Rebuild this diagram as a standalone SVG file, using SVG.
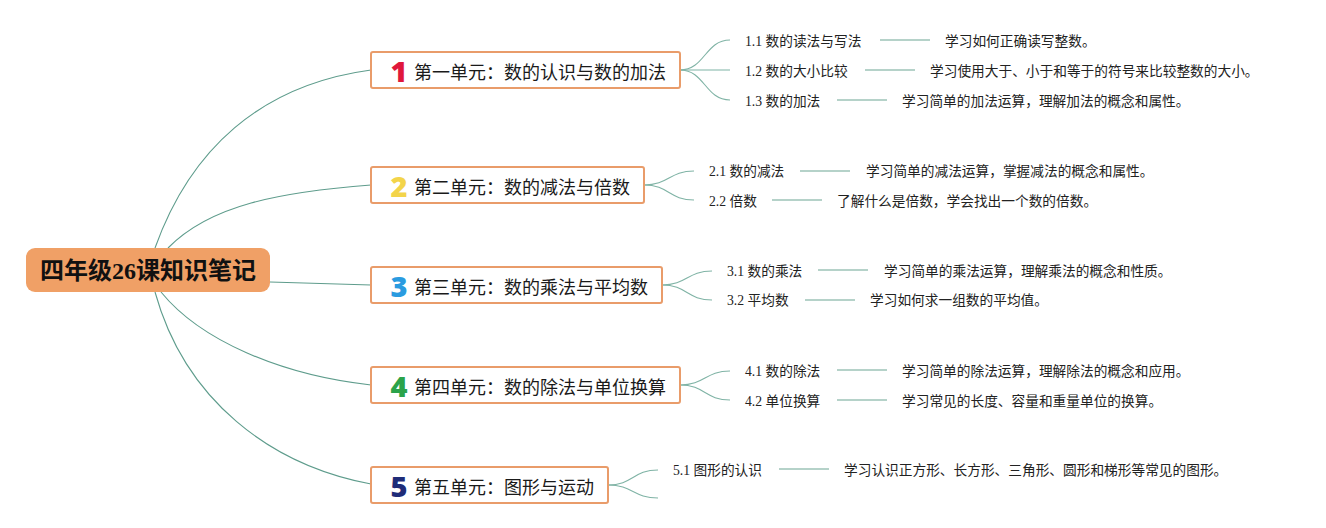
<svg xmlns="http://www.w3.org/2000/svg" width="1326" height="528" viewBox="0 0 1326 528">
<style>
.conn{fill:none;stroke:#5E9C8C;stroke-width:1.1}
.sub{fill:none;stroke:#7FB3A5;stroke-width:1.1}
.dash{stroke:#9CC3B7;stroke-width:1.5}
.unit{fill:#fff;stroke:#E99C6A;stroke-width:2}
.ut{font-family:"Noto Sans CJK SC","Noto Sans",sans-serif;font-size:18px;fill:#1a1a1a;dominant-baseline:central}
.num{font-family:"Noto Sans","DejaVu Sans",sans-serif;font-weight:900;font-size:29px;dominant-baseline:central;text-anchor:middle}
.ct{font-family:"Liberation Serif","Noto Sans CJK SC",serif;font-size:13.7px;fill:#222;dominant-baseline:central}
</style>
<rect width="1326" height="528" fill="#fff"/>
<g id="connectors">
<path class="conn" d="M155,248 C190,150 260,85 371,70"/>
<path class="conn" d="M168,248 C210,205 280,192 371,185"/>
<path class="conn" d="M270,282 C310,283 340,284 371,285"/>
<path class="conn" d="M161,292 C200,340 280,375 371,385"/>
<path class="conn" d="M155,292 C185,400 270,465 371,484"/>
<path class="sub" d="M680,70 C705,70 705,40 730,40"/>
<path class="sub" d="M680,70 L730,70"/>
<path class="sub" d="M680,70 C705,70 705,100 730,100"/>
<path class="sub" d="M644,185 C669,185 669,171 694,171"/>
<path class="sub" d="M644,185 C669,185 669,200 694,200"/>
<path class="sub" d="M662,285 C687,285 687,271 712,271"/>
<path class="sub" d="M662,285 C687,285 687,300 712,300"/>
<path class="sub" d="M680,385 C705,385 705,371 730,371"/>
<path class="sub" d="M680,385 C705,385 705,400 730,400"/>
<path class="sub" d="M608,485 C633,485 633,470 658,470"/>
<path class="sub" d="M608,485 C633,485 633,498 658,498"/>
<line class="dash" x1="880" y1="40" x2="930" y2="40"/>
<line class="dash" x1="865" y1="70" x2="915" y2="70"/>
<line class="dash" x1="837" y1="100" x2="887" y2="100"/>
<line class="dash" x1="800" y1="171" x2="850" y2="171"/>
<line class="dash" x1="772" y1="200" x2="822" y2="200"/>
<line class="dash" x1="818" y1="270" x2="868" y2="270"/>
<line class="dash" x1="805" y1="300" x2="855" y2="300"/>
<line class="dash" x1="837" y1="370" x2="887" y2="370"/>
<line class="dash" x1="837" y1="400" x2="887" y2="400"/>
<line class="dash" x1="779" y1="469" x2="829" y2="469"/>
</g>
<g id="root">
<rect x="26" y="248" width="244" height="44" rx="9" fill="#F0A066"/>
<text x="148" y="271" text-anchor="middle" dominant-baseline="central" font-family="Liberation Serif,'Noto Sans CJK SC',serif" font-weight="bold" font-size="24" fill="#111">四年级26课知识笔记</text>
</g>
<g id="unit1">
<rect class="unit" x="371" y="52" width="309" height="36" rx="2"/>
<text class="num" x="399" y="70" fill="#E0173B">1</text>
<text class="ut" x="414" y="71">第一单元：数的认识与数的加法</text>
</g>
<g id="unit2">
<rect class="unit" x="371" y="167" width="273" height="36" rx="2"/>
<text class="num" x="399" y="185" fill="#F3D44A">2</text>
<text class="ut" x="414" y="186">第二单元：数的减法与倍数</text>
</g>
<g id="unit3">
<rect class="unit" x="371" y="267" width="291" height="36" rx="2"/>
<text class="num" x="399" y="285" fill="#2A9BE0">3</text>
<text class="ut" x="414" y="286">第三单元：数的乘法与平均数</text>
</g>
<g id="unit4">
<rect class="unit" x="371" y="367" width="309" height="36" rx="2"/>
<text class="num" x="399" y="385" fill="#2BA34A">4</text>
<text class="ut" x="414" y="386">第四单元：数的除法与单位换算</text>
</g>
<g id="unit5">
<rect class="unit" x="371" y="467" width="237" height="36" rx="2"/>
<text class="num" x="399" y="485" fill="#1F2C78">5</text>
<text class="ut" x="414" y="486">第五单元：图形与运动</text>
</g>
<g id="c11"><text class="ct" x="745" y="41">1.1 数的读法与写法</text><text class="ct" x="945" y="41">学习如何正确读写整数。</text></g>
<g id="c12"><text class="ct" x="745" y="71">1.2 数的大小比较</text><text class="ct" x="930" y="71">学习使用大于、小于和等于的符号来比较整数的大小。</text></g>
<g id="c13"><text class="ct" x="745" y="101">1.3 数的加法</text><text class="ct" x="902" y="101">学习简单的加法运算，理解加法的概念和属性。</text></g>
<g id="c21"><text class="ct" x="709" y="171">2.1 数的减法</text><text class="ct" x="866" y="171">学习简单的减法运算，掌握减法的概念和属性。</text></g>
<g id="c22"><text class="ct" x="709" y="201">2.2 倍数</text><text class="ct" x="837" y="201">了解什么是倍数，学会找出一个数的倍数。</text></g>
<g id="c31"><text class="ct" x="727" y="271">3.1 数的乘法</text><text class="ct" x="884" y="271">学习简单的乘法运算，理解乘法的概念和性质。</text></g>
<g id="c32"><text class="ct" x="727" y="300">3.2 平均数</text><text class="ct" x="870" y="300">学习如何求一组数的平均值。</text></g>
<g id="c41"><text class="ct" x="745" y="371">4.1 数的除法</text><text class="ct" x="902" y="371">学习简单的除法运算，理解除法的概念和应用。</text></g>
<g id="c42"><text class="ct" x="745" y="401">4.2 单位换算</text><text class="ct" x="902" y="401">学习常见的长度、容量和重量单位的换算。</text></g>
<g id="c51"><text class="ct" x="673" y="470">5.1 图形的认识</text><text class="ct" x="844" y="470">学习认识正方形、长方形、三角形、圆形和梯形等常见的图形。</text></g>
</svg>
